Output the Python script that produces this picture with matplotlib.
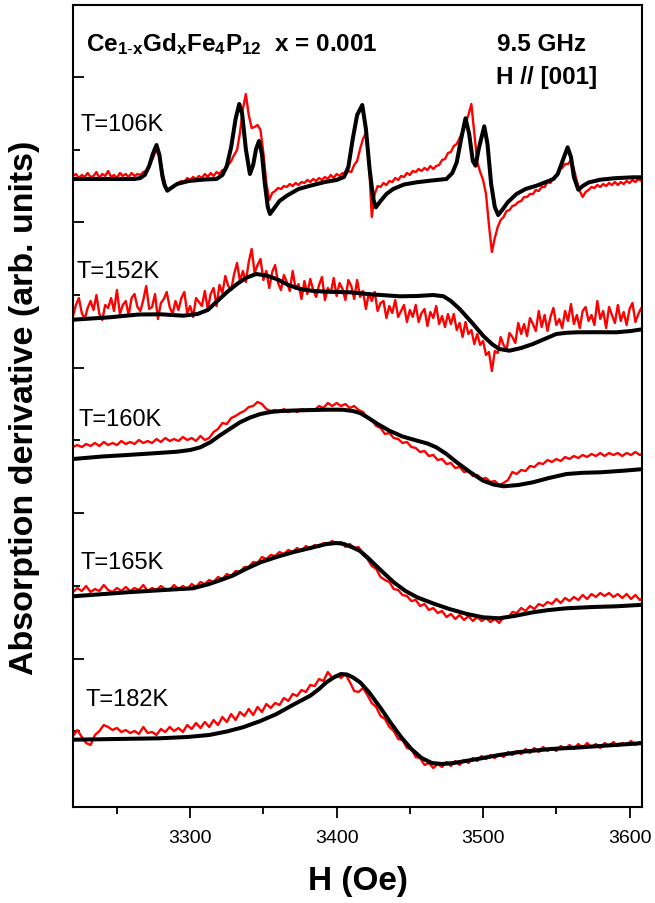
import numpy as np
import matplotlib
matplotlib.use('Agg')
import matplotlib.pyplot as plt
from matplotlib.ticker import FixedLocator, MultipleLocator, NullFormatter

plt.rcParams['font.family'] = ['Liberation Sans', 'DejaVu Sans']
plt.rcParams['mathtext.fontset'] = 'custom'
plt.rcParams['mathtext.rm'] = 'Liberation Sans'
plt.rcParams['mathtext.bf'] = 'Liberation Sans:bold'
plt.rcParams['mathtext.it'] = 'Liberation Sans:italic'

# ---------------- data ----------------
temps = ['T=106K', 'T=152K', 'T=160K', 'T=165K', 'T=182K']
offsets = [628, 493, 363, 213, 68]          # vertical offset of each spectrum (arb. units)
label_H = [3224.8, 3222.5, 3223.6, 3224.8, 3228.2]
label_y = [683, 536, 388, 245, 108]

# experimental spectra: start field (Oe), field step (Oe), derivative values
exp_start = 3220
exp_step = [2, 2, 3, 3, 3]

exp106 = [3, 5, 1, 4, 2, 6, 2, 3, 7, 1,
          5, 3, 8, 2, 4, 1, 6, 3, 5, 2,
          6, 3, 5, 4, 7, 8, 13, 19, 26, 28,
          14, 1, -12, -10, -8, -6, -4, -2, -3, 1,
          -1, 2, 0, 3, 1, 5, 2, 6, 3, 7,
          5, 9, 8, 14, 18, 24, 29, 46, 70, 85,
          64, 51, 52, 54, 49, 26, -4, -21, -14, -12,
          -9, -10, -7, -8, -5, -7, -4, -6, -3, -4,
          -1, -3, 0, -2, 1, -1, 2, 0, 4, 1,
          5, 3, 6, 4, 8, 7, 14, 18, 30, 40,
          46, 19, -38, -15, -7, -8, -4, -6, -2, -3,
          1, -1, 3, 2, 6, 4, 8, 7, 10, 8,
          11, 9, 13, 10, 13, 14, 19, 20, 26, 27,
          33, 35, 41, 47, 56, 64, 75, 46, 17, 7,
          -1, -15, -46, -73, -59, -48, -41, -38, -32, -31,
          -27, -26, -23, -22, -18, -18, -15, -15, -11, -12,
          -8, -8, -3, -4, 1, 3, 10, 11, 15, 15,
          19, 10, -2, -12, -18, -13, -11, -8, -9, -6,
          -8, -5, -7, -4, -6, -3, -6, -3, -5, -2,
          -4, -1, -3, 0, -2, 1]

exp152 = [-2, 9, 16, 1, -5, 6, 13, 4, 19, 0,
          -6, 9, 6, 16, 3, 24, 0, 9, 13, -1,
          16, 20, 7, 3, 14, 28, 5, 7, 20, -5,
          11, 15, 22, 7, 0, 13, 4, 16, 22, 1,
          8, -3, 16, 12, 8, 23, 5, 20, 26, 8,
          29, 21, 38, 28, 24, 40, 51, 33, 43, 32,
          52, 65, 41, 49, 55, 34, 43, 26, 42, 49,
          31, 24, 39, 32, 23, 43, 25, 30, 15, 33,
          20, 35, 24, 17, 29, 37, 14, 26, 21, 36,
          18, 31, 25, 14, 34, 28, 15, 34, 17, 23,
          5, 21, 13, 22, 3, 11, 13, -4, 8, 1,
          14, -3, 3, 9, -8, 4, -3, 9, -8, 1,
          5, -12, 2, -4, 8, -10, -2, -13, 0, -10,
          0, -16, -9, -23, -8, -20, -16, -30, -20, -31,
          -27, -41, -38, -57, -37, -39, -23, -31, -36, -19,
          -23, -29, -9, -20, -10, -22, -4, -10, -17, 3,
          -13, -1, -17, -3, 6, -11, -5, -14, 3, -7,
          10, -10, -1, -14, 3, 7, -7, -1, -11, 13,
          -5, 3, -14, 7, -1, -9, 9, -7, 2, -11,
          5, 11, -8, 0, 6, -6]

exp160 = [-3, -1, -3, 0, -2, 1, -2, 2, -1, 1,
          -1, 3, 0, 2, 0, 4, 1, 3, 1, 5,
          2, 6, 3, 5, 3, 7, 4, 6, 3, 8,
          4, 6, 12, 15, 21, 20, 26, 28, 31, 33,
          37, 38, 42, 40, 35, 33, 34, 32, 35, 32,
          34, 32, 35, 33, 35, 34, 38, 36, 41, 38,
          41, 38, 40, 36, 38, 34, 32, 26, 24, 18,
          16, 10, 11, 6, 5, 1, 2, -3, -4, -8,
          -7, -12, -11, -16, -15, -20, -19, -24, -23, -28,
          -27, -32, -31, -35, -34, -38, -37, -41, -39, -36,
          -28, -30, -26, -27, -22, -23, -19, -20, -16, -18,
          -15, -17, -13, -15, -12, -14, -11, -13, -10, -12,
          -9, -12, -9, -11, -9, -12, -9, -11, -8, -11,
          -9]

exp165 = [2, 6, 3, 8, 2, 5, 3, 9, 4, 2,
          6, 3, 7, 3, 6, 4, 9, 3, 6, 4,
          8, 5, 4, 9, 5, 8, 5, 10, 7, 12,
          10, 14, 12, 17, 15, 20, 18, 23, 22, 27,
          27, 32, 31, 37, 35, 39, 38, 42, 40, 44,
          42, 46, 43, 48, 45, 49, 47, 51, 49, 53,
          50, 52, 47, 50, 46, 47, 39, 35, 28, 25,
          17, 14, 12, 5, 4, -1, -2, -7, -6, -12,
          -10, -16, -14, -19, -17, -23, -20, -25, -21, -26,
          -22, -27, -23, -27, -24, -28, -25, -29, -23, -24,
          -18, -19, -14, -17, -12, -15, -10, -12, -8, -10,
          -5, -9, -4, -7, -3, -6, -1, -5, 0, -3,
          1, -2, 1, -3, 0, -4, 0, -5, -1, -6,
          -3]

exp182 = [3, 9, 2, -4, -6, 4, 8, 14, 12, 9,
          11, 7, 9, 6, 8, 5, 12, 6, 7, 4,
          10, 7, 12, 8, 11, 7, 14, 10, 16, 11,
          17, 12, 19, 14, 22, 17, 25, 19, 27, 23,
          30, 24, 32, 27, 35, 31, 36, 34, 41, 38,
          45, 43, 49, 47, 54, 53, 60, 58, 67, 61,
          64, 61, 65, 57, 48, 47, 51, 44, 36, 32,
          23, 20, 12, 8, 0, -1, -9, -10, -18, -19,
          -26, -24, -29, -25, -28, -23, -27, -22, -26, -21,
          -24, -19, -22, -17, -20, -16, -19, -15, -18, -13,
          -16, -12, -15, -10, -14, -9, -13, -8, -12, -9,
          -12, -7, -10, -6, -10, -5, -9, -4, -8, -5,
          -9, -4, -7, -3, -7, -4, -6, -2, -6, -3,
          -5]

# fitted curves: field (Oe) and derivative values
fit106_H = [3220, 3240, 3262, 3266, 3269, 3272, 3274.5, 3277, 3279, 3281, 3282.5, 3284.4, 3287,
            3291, 3299, 3310, 3318, 3322, 3325, 3328, 3331, 3333.5, 3335.5, 3338, 3340.8, 3343,
            3345, 3347, 3349, 3351, 3353, 3354.5, 3357, 3361, 3366, 3374, 3382, 3392, 3400, 3405,
            3408, 3411, 3414, 3417.5, 3420, 3422.5, 3425, 3426.8, 3430, 3434, 3438.6, 3446,
            3454.6, 3465, 3475, 3479, 3482, 3485, 3488, 3490.5, 3493, 3494.9, 3497, 3500.8, 3503,
            3505.5, 3508, 3510.3, 3513, 3517, 3522.8, 3529, 3536.5, 3543, 3548, 3551, 3554,
            3557.7, 3560, 3562, 3565, 3568, 3572, 3580, 3590, 3602.5, 3610]
fit106_s = [0, 0, 0, 1, 4, 13, 25, 34, 24, 3, -6, -11.7, -9,
            -5, -2, -0.5, 0, 4, 13, 32, 60, 75, 65, 30, 5, 14,
            30, 38, 25, -5, -28, -35, -30, -22, -16.7, -10, -6.7, -3, -1, 2,
            12, 40, 64, 74, 50, 10, -20, -28.3, -22, -15, -10, -5.5,
            -3.3, -1.5, 0, 6, 16.7, 40, 60.7, 45, 18, 13.3, 30, 52.7, 35,
            -5, -28, -36, -31, -23, -15, -10, -6.7, -3, 0, 5, 17,
            31.7, 22, 2, -10.7, -7, -3.5, -0.7, 0.8, 1.7, 1.7]

fit152_H = [3220, 3245, 3265, 3280, 3295, 3305, 3312, 3320, 3326, 3332, 3338, 3345, 3352, 3359,
            3367, 3375, 3384, 3393, 3409, 3425, 3443, 3455, 3466, 3473, 3478, 3484, 3492, 3500,
            3506, 3511, 3518, 3526, 3534, 3542, 3550, 3557, 3564, 3578, 3591, 3601, 3610]
fit152_s = [-5.7, -3.3, -0.5, -0.3, -1.7, 0, 4, 15, 23, 30, 36, 40, 38.5, 35,
            29, 25, 23, 22.3, 21.7, 19.5, 17.7, 18, 19, 17.7, 13, 5, -8, -21.7,
            -30, -35, -36.7, -34, -30, -25, -20, -18.8, -18.3, -18.2, -18.3, -17, -15]

fit160_H = [3220, 3240, 3257, 3275, 3291, 3300, 3307, 3314, 3320, 3327, 3334, 3341, 3348, 3355,
            3362, 3375, 3393, 3404, 3411, 3416, 3421, 3428, 3436, 3445, 3455, 3462, 3468, 3475,
            3482, 3491, 3500, 3507, 3514, 3524, 3534, 3545, 3557, 3568, 3580, 3595, 3610]
fit160_s = [-15, -12.5, -11, -9.3, -7.7, -6, -3.3, 2, 8.3, 15, 21.7, 26.5, 30, 32,
            33, 33.7, 34.3, 34.3, 33, 31, 26.7, 20, 13.3, 7.5, 3.3, 0.5, -3.3, -10,
            -18.3, -28, -36.7, -40.5, -42.3, -41, -38.3, -34, -30, -28.8, -28.3, -26.8, -25]

fit165_H = [3220, 3257, 3280, 3302, 3313, 3321, 3329, 3338, 3348, 3359, 3370, 3382, 3393, 3400,
            3405, 3411, 3416, 3421, 3430, 3439, 3447, 3455, 3466, 3477, 3489, 3500, 3511, 3522,
            3534, 3545, 3557, 3575, 3591, 3610]
fit165_s = [-2.3, 1.7, 3.8, 5.7, 10, 14, 18.3, 25, 31.7, 37, 41.7, 46, 50, 51,
            50, 46.5, 43, 36.7, 24, 11.7, 3, -3.3, -9.5, -15, -20, -23.3, -24.3, -21.8,
            -18.3, -16, -14.3, -13, -12.3, -10.7]

fit182_H = [3220, 3250, 3279, 3298, 3313, 3325, 3336, 3348, 3359, 3370, 3382, 3388, 3393, 3398,
            3403, 3407, 3411, 3416, 3422, 3430, 3437, 3444, 3451, 3458, 3465, 3472, 3480, 3490,
            3500, 3511, 3525, 3546, 3565, 3580, 3595, 3610]
fit182_s = [-0.7, 0, 0.7, 2, 4, 7.5, 11.7, 18, 25, 34, 43.3, 50, 56.7, 61.5,
            65, 64.5, 61.7, 56.7, 47, 31, 16, 2, -10, -19, -24, -25, -24, -21.5,
            -19, -16, -13, -10, -8.5, -7, -5.5, -4]

exp_all = [exp106, exp152, exp160, exp165, exp182]
fit_all = [(fit106_H, fit106_s), (fit152_H, fit152_s), (fit160_H, fit160_s),
           (fit165_H, fit165_s), (fit182_H, fit182_s)]

x_ticks = [3300, 3400, 3500, 3600]

# ---------------- figure ----------------
W, Hpx = 655, 904
fig = plt.figure(figsize=(W / 100, Hpx / 100), dpi=100)
ax = fig.add_axes([73 / W, 96 / Hpx, 569 / W, 802 / Hpx])

for i in range(5):
    vals = np.asarray(exp_all[i], dtype=float)
    Hx = exp_start + exp_step[i] * np.arange(len(vals))
    ax.plot(Hx, vals + offsets[i], color='#ff0000', lw=1.7, zorder=2,
            solid_joinstyle='round')
    fh, fs = fit_all[i]
    n = min(len(fh), len(fs))
    ax.plot(np.asarray(fh[:n]), np.asarray(fs[:n]) + offsets[i], color='black',
            lw=2.9, zorder=3, solid_joinstyle='round', solid_capstyle='round')
    ax.text(label_H[i], label_y[i], temps[i], fontsize=17, ha='left', va='center',
            zorder=4)

ax.set_xlim(3220, 3608.5)
ax.set_ylim(0, 802)

ax.xaxis.set_major_locator(FixedLocator(x_ticks))
ax.xaxis.set_minor_locator(MultipleLocator(50))
ax.yaxis.set_major_locator(FixedLocator([148, 294, 439, 585, 730]))
ax.yaxis.set_minor_locator(FixedLocator([76, 221, 367, 512, 657]))
ax.yaxis.set_major_formatter(NullFormatter())

ax.tick_params(axis='x', which='major', direction='out', length=8, width=1.3,
               labelsize=14, pad=8, top=False)
ax.tick_params(axis='x', which='minor', direction='out', length=5, width=1.3, top=False)
ax.tick_params(axis='y', which='major', direction='in', length=8, width=1.3,
               right=False, labelleft=False)
ax.tick_params(axis='y', which='minor', direction='in', length=5, width=1.3, right=False)

for sp in ax.spines.values():
    sp.set_linewidth(1.5)

try:
    title = r'$\mathbf{Ce_{1\text{-}x}Gd_{x}Fe_{4}P_{12}}$  x = 0.001'
    t = fig.text(86 / W, 1 - 51 / Hpx, title, fontsize=17.5, fontweight='bold',
                 ha='left', va='baseline')
    fig.canvas.draw()
except Exception:
    t.remove()
    title = r'$\mathbf{Ce_{1{\!-\!}x}Gd_{x}Fe_{4}P_{12}}$  x = 0.001'
    fig.text(86 / W, 1 - 51 / Hpx, title, fontsize=17.5, fontweight='bold',
             ha='left', va='baseline')

fig.text(497 / W, 1 - 51 / Hpx, '9.5 GHz', fontsize=17.5, fontweight='bold',
         ha='left', va='baseline')
fig.text(496 / W, 1 - 84 / Hpx, 'H // [001]', fontsize=17.5, fontweight='bold',
         ha='left', va='baseline')

fig.text(357.5 / W, 1 - 882 / Hpx, 'H (Oe)', fontsize=24, fontweight='bold',
         ha='center', va='center')
fig.text(25 / W, 1 - 408 / Hpx, 'Absorption derivative (arb. units)', fontsize=24.5,
         fontweight='bold', rotation=90, ha='center', va='center')

fig.savefig('out.png', dpi=100)
